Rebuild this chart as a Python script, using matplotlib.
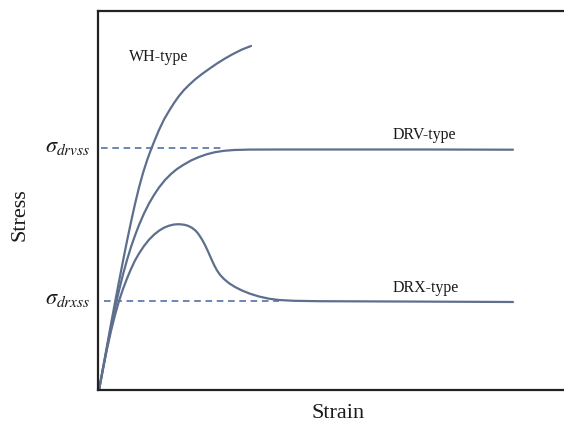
import matplotlib
matplotlib.use("Agg")
import matplotlib.pyplot as plt

plt.rcParams['font.family'] = ['Liberation Serif', 'DejaVu Serif']
plt.rcParams['mathtext.fontset'] = 'stix'

# schematic curves, values (arbitrary units)
wh_strain = [0, 4, 8, 12, 16, 20, 24, 28, 32, 36, 40, 44, 48, 52, 56, 60, 65, 70, 75, 80,
             85, 90, 96, 103, 110, 118, 126, 134, 143, 152]
wh_stress = [0, 22, 44, 66, 87.5, 108.5, 129, 149, 168, 186, 202.5, 217, 229.5, 240.5, 250.5, 260, 270.5, 279, 287, 294,
             300, 305, 310.5, 316, 321, 326.5, 331.5, 336, 340.5, 344]

drv_strain = [0, 4, 8, 12, 16, 20, 24, 28, 32, 36, 40, 45, 50, 55, 60, 66, 72, 78, 85, 92,
              100, 108, 116, 125, 135, 150, 180, 250, 330, 414]
drv_stress = [0, 21.5, 42.5, 63, 82, 99.5, 115.5, 130, 143, 154.5, 165, 176.5, 186.5, 195, 202.5, 210, 216, 221, 225.5, 229.5,
              233, 235.8, 237.8, 239.2, 240, 240.4, 240.5, 240.5, 240.5, 240.3]

drx_strain = [0, 4, 8, 12, 16, 20, 24, 28, 32, 36, 40, 45, 50, 55, 60, 65, 70, 75, 80, 85,
              89, 93, 97, 100, 103, 106, 109, 112, 115, 118, 121, 125, 130, 136, 143, 151, 160, 170, 180, 195,
              220, 300, 414]
drx_stress = [0, 21, 41, 59, 75, 89, 101, 111.5, 121, 129.5, 136.5, 144, 150.3, 155.3, 159.3, 162.3, 164.3, 165.5, 165.8, 165.3,
              164.2, 162.2, 159, 155.2, 150.5, 145, 138.6, 131.8, 125.2, 119.6, 115.2, 111, 106.8, 103, 99.5, 96.3, 93.5, 91.3, 90, 89.2,
              88.8, 88.5, 88]

drvss_level = 241.7
drvss_span = [2, 126]
drxss_level = 89.3
drxss_span = [5, 180]

curve_labels = ['WH-type', 'DRV-type', 'DRX-type']
label_pos = [(60, 329), (325.5, 251), (327, 98)]

line_col = '#5d6f8d'
dash_col = '#6b86b2'

fig = plt.figure(figsize=(5.64, 4.24), dpi=100)
ax = fig.add_axes([98 / 564, 34 / 424, 466 / 564, 378.5 / 424])

ax.plot(drvss_span, [drvss_level, drvss_level], color=dash_col, lw=1.4, dashes=(3.4, 2.4))
ax.plot(drxss_span, [drxss_level, drxss_level], color=dash_col, lw=1.4, dashes=(3.4, 2.4))

for xs, ys in [(wh_strain, wh_stress), (drv_strain, drv_stress), (drx_strain, drx_stress)]:
    ax.plot(xs, ys, color=line_col, lw=1.6, solid_capstyle='round', solid_joinstyle='round')

for txt, (x, y) in zip(curve_labels, label_pos):
    ax.text(x, y, txt, ha='center', va='baseline', fontsize=11.5, color='#1a1a1a')

ax.text(-8, drvss_level + 1, r'$\sigma_{drvss}$', ha='right', va='center', fontsize=16, color='#1a1a1a')
ax.text(-8, drxss_level + 1, r'$\sigma_{drxss}$', ha='right', va='center', fontsize=16, color='#1a1a1a')

ax.set_xlim(-1, 465)
ax.set_ylim(0, 378.5)
ax.set_xticks([])
ax.set_yticks([])
ax.spines['right'].set_visible(False)
for side in ['left', 'top', 'bottom']:
    ax.spines[side].set_linewidth(1.6)
    ax.spines[side].set_color('#222222')

fig.text(20 / 564, 1 - 215 / 424, 'Stress', rotation=90, ha='center', va='center', fontsize=16, color='#1a1a1a')
fig.text(338 / 564, 1 - 418 / 424, 'Strain', ha='center', va='baseline', fontsize=16, color='#1a1a1a')

fig.savefig('out.png', dpi=100)
